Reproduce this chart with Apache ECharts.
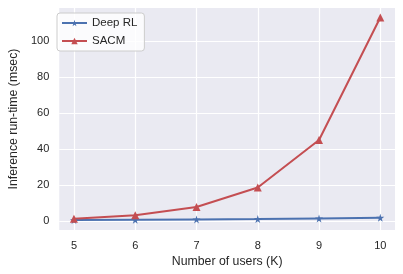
<!DOCTYPE html>
<html><head><meta charset="utf-8">
<script src="https://cdn.jsdelivr.net/npm/echarts@6/dist/echarts.min.js"></script>
<style>html,body{margin:0;padding:0;background:#fff}#c{width:403px;height:274px}</style>
</head><body><div id="c"></div>
<script>
var users = [5, 6, 7, 8, 9, 10];
var deepRL = [0.5, 0.7, 0.9, 1.1, 1.4, 1.8];
var sacm = [1.2, 3.2, 7.8, 18.6, 45, 113];
var xTicks = [5, 6, 7, 8, 9, 10];
var yTicks = [0, 20, 40, 60, 80, 100];

var STAR = 'path://M50,0 L61,35 L98,35 L68,57 L79,91 L50,70 L21,91 L32,57 L2,35 L39,35 Z';
var FONT = "'Liberation Sans', Arial, sans-serif";
var chart = echarts.init(document.getElementById('c'), null, {renderer: 'canvas'});
function pairs(xs, ys){ return xs.map(function(x,i){return [x, ys[i]];}); }
chart.setOption({
  animation: false,
  textStyle: {fontFamily: FONT},
  grid: {left: 52, right: 8, top: 8, bottom: 44, show: true, backgroundColor: '#EAEAF2', borderWidth: 0},
  legend: {
    orient: 'vertical', left: 57, top: 13, itemWidth: 25, itemHeight: 8, itemGap: 6,
    padding: [4, 7, 4, 4],
    backgroundColor: 'rgba(255,255,255,0.8)', borderColor: '#cccccc', borderWidth: 1, borderRadius: 3,
    textStyle: {fontSize: 11.5, color: '#262626', fontFamily: FONT},
    data: ['Deep RL', 'SACM']
  },
  xAxis: {
    type: 'value', min: 4.76, max: 10.24,
    name: 'Number of users (K)', nameLocation: 'middle', nameGap: 25,
    nameTextStyle: {fontSize: 12.3, color: '#262626', fontFamily: FONT},
    axisLine: {show: false},
    axisTick: {show: false, customValues: xTicks},
    axisLabel: {customValues: xTicks, fontSize: 11, color: '#262626', margin: 10, fontFamily: FONT},
    splitLine: {show: true, lineStyle: {color: '#ffffff', width: 1.2}}
  },
  yAxis: {
    type: 'value', min: -5, max: 118.3,
    name: 'Inference run-time (msec)', nameLocation: 'middle', nameGap: 36,
    nameTextStyle: {fontSize: 12.3, color: '#262626', fontFamily: FONT},
    axisLine: {show: false},
    axisTick: {show: false, customValues: yTicks},
    axisLabel: {customValues: yTicks, fontSize: 11, color: '#262626', margin: 10, fontFamily: FONT},
    splitLine: {show: true, lineStyle: {color: '#ffffff', width: 1.2}}
  },
  series: [
    {name: 'Deep RL', type: 'line', data: pairs(users, deepRL), color: '#4C72B0',
     symbol: STAR, symbolSize: 8, lineStyle: {width: 2}, itemStyle: {color: '#4C72B0'}},
    {name: 'SACM', type: 'line', data: pairs(users, sacm), color: '#C44E52',
     symbol: 'triangle', symbolSize: 8, lineStyle: {width: 2}, itemStyle: {color: '#C44E52'}}
  ]
});
</script></body></html>
